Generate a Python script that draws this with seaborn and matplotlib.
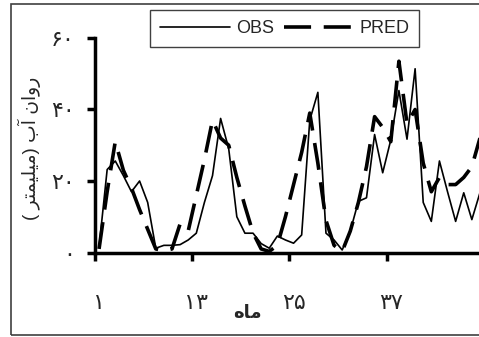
import matplotlib
matplotlib.use("Agg")
import matplotlib.pyplot as plt
from matplotlib.patches import Rectangle
import seaborn as sns
import pandas as pd
import numpy as np

# ---- data ----
months = list(range(1, 49))
obs = [1.5, 23.2, 25.6, 21.5, 17, 20, 14, 1.2, 2, 2, 2.2, 3.5,
       5.4, 14, 21.5, 37.5, 29, 10, 5.4, 5.4, 2.5, 1.2, 4.6, 3.5,
       2.6, 4.9, 37, 44.8, 5.4, 3.5, 0.7, 6, 14.3, 15.3, 33, 22.3,
       31.5, 45.3, 31.7, 51.4, 14, 8.7, 25.6, 17, 8.7, 16.7, 9.2, 16.7]
pred = [1, 17, 31, 23, 18, 12, 6.5, 1, 0.5, 1, 8, 6,
        16, 26, 37, 32, 30, 21, 13, 5.5, 1, 0.3, 2, 10,
        19, 28, 39, 25, 9, 2, 0.3, 6, 14, 24, 38, 35,
        31, 53.5, 36, 40, 25, 17, 21, 19, 19, 21, 24, 32]
series_names = ["OBS", "PRED"]
x_tick_labels = ["\u06F1", "\u06F1\u06F3", "\u06F2\u06F5", "\u06F3\u06F7"]   # 1 13 25 37
x_tick_months = [1, 13, 25, 37]
y_ticks = [0, 20, 40, 60]
y_tick_labels = ["\u06F0", "\u06F2\u06F0", "\u06F4\u06F0", "\u06F6\u06F0"]
# visual-order presentation forms
x_label = "\uFEE9\uFE8E\uFEE3"                                   # ماه
y_label = "( \uFEAE\uFE98\uFEE4\uFEF4\uFEE0\uFEF4\uFEE3) \uFE8F\uFE81 \uFEE5\uFE8D\uFEED\uFEAD"  # روان آب (میلیمتر)

df = pd.DataFrame({
    "pos": [m - 0.5 for m in months] * 2,
    "value": obs + pred,
    "series": [series_names[0]] * len(months) + [series_names[1]] * len(months),
})

sns.set_style("white")
plt.rcParams["font.family"] = ["Liberation Sans", "DejaVu Sans"]

W, H = 479, 337
fig = plt.figure(figsize=(W / 100, H / 100), dpi=100)
fig.patch.set_facecolor("white")
ax = fig.add_axes([95 / W, (H - 252.5) / H, 389 / W, 214.5 / H])

d_obs = df[df.series == "OBS"]
d_pred = df[df.series == "PRED"]
sns.lineplot(data=d_obs, x="pos", y="value", color="black", lw=1.2,
             label="OBS", ax=ax)
sns.lineplot(data=d_pred, x="pos", y="value", color="black", lw=2.6,
             linestyle=(0, (7.5, 3.5)), label="PRED", ax=ax)

ax.set_xlim(0, 48)
ax.set_ylim(0, 60)

for s in ["top", "right"]:
    ax.spines[s].set_visible(False)
for s in ["left", "bottom"]:
    ax.spines[s].set_linewidth(2.5)
    ax.spines[s].set_color("black")

ax.set_xticks([m - 1 for m in x_tick_months])
ax.set_xticklabels([])
ax.set_xticks([m - 0.5 for m in x_tick_months], minor=True)
ax.set_xticklabels(x_tick_labels, minor=True, fontsize=16)
ax.tick_params(axis="x", which="major", direction="out", length=5.5, width=2.5,
               color="black", bottom=True)
ax.tick_params(axis="x", which="minor", length=0, pad=29, bottom=True)

ax.set_yticks(y_ticks)
ax.set_yticklabels(y_tick_labels, fontsize=16)
ax.tick_params(axis="y", which="major", direction="out", length=5.5, width=2.5,
               color="black", left=True, pad=9)

ax.set_xlabel(x_label, fontsize=13, fontweight="bold")
ax.xaxis.set_label_coords((247 - 95) / 389, -0.245)
ax.set_ylabel(y_label, fontsize=13.5)
ax.yaxis.set_label_coords(-0.14, 0.487)

handles, labels = ax.get_legend_handles_labels()
leg = ax.legend(handles, labels, ncol=2, loc="upper left",
                bbox_to_anchor=(150 / W, 1 - 10 / H), bbox_transform=fig.transFigure,
                borderaxespad=0, frameon=True, fancybox=False, edgecolor="#404040",
                framealpha=1, fontsize=13, handlelength=3.9, handletextpad=0.3,
                columnspacing=0.55, borderpad=0.55)
leg.get_frame().set_linewidth(1.0)

fig.add_artist(Rectangle((11 / W, (H - 335) / H), 1.0, (335 - 4) / H,
                         transform=fig.transFigure, fill=False,
                         edgecolor="#404040", lw=1.2))

fig.savefig("out.png", dpi=100)
